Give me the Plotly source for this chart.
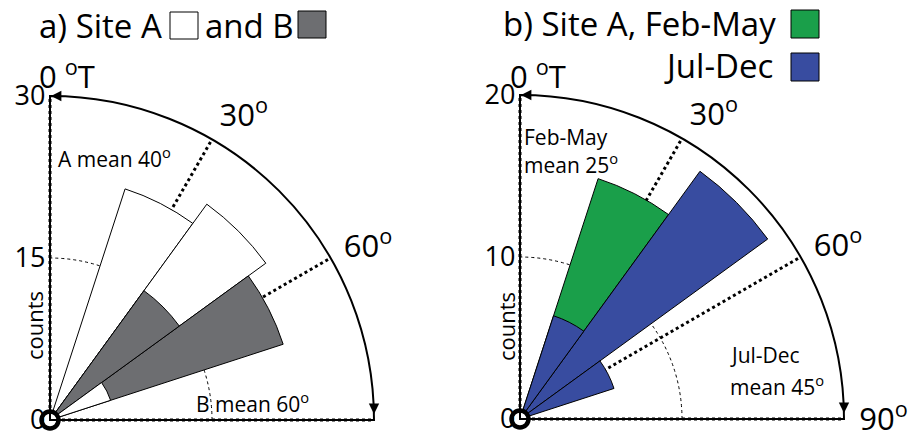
import plotly.graph_objects as go

# ---------------- data ----------------
bin_centers = [27, 45, 63]          # degrees true, 18-degree bins
bin_width = 18
site_a = [22.5, 24.7, 5.9]          # counts, panel a, site A
site_b = [0.0, 14.8, 22.7]          # counts, panel a, site B
feb_may = [15.6, 0.0, 0.0]          # counts, panel b, Feb-May
jul_dec = [6.7, 18.9, 6.1]          # counts, panel b, Jul-Dec
radial_ticks_a = [0, 15, 30]
radial_ticks_b = [0, 10, 20]
angle_ticks = [0, 30, 60, 90]
angle_text_a = ["", "30<sup>o</sup>", "60<sup>o</sup>", ""]
angle_text_b = ["", "30<sup>o</sup>", "60<sup>o</sup>", "90<sup>o</sup>"]

# ---------------- style ----------------
W, H = 922, 434
OFF = 8   # page body margin
FONT = "Open Sans"
C_A, C_B = "#ffffff", "#6d6e71"
C_FEB, C_JUL = "#1a9f4a", "#384ca0"


def px(x):
    return (x - OFF) / W


def py(y):
    return 1 - (y - OFF) / H


# panel geometry (origin pixel in the screenshot, radius)
OA, RA = (50, 420), 324
OB, RB = (520, 419), 324


def layered(v1, v2, c1, c2):
    back_r, back_c, front_r, front_c = [], [], [], []
    for a, b in zip(v1, v2):
        if a >= b:
            back_r.append(a); back_c.append(c1); front_r.append(b); front_c.append(c2)
        else:
            back_r.append(b); back_c.append(c2); front_r.append(a); front_c.append(c1)
    return (back_r, back_c), (front_r, front_c)


fig = go.Figure()


def add_panel(subplot, v1, v2, c1, c2):
    for r, c in layered(v1, v2, c1, c2):
        th = [t for t, v in zip(bin_centers, r) if v > 0]
        cc = [k for k, v in zip(c, r) if v > 0]
        rr = [v for v in r if v > 0]
        fig.add_trace(go.Barpolar(
            r=rr, theta=th, width=[bin_width] * len(rr),
            marker=dict(color=cc, line=dict(color="black", width=1)),
            subplot=subplot, showlegend=False, hoverinfo="skip"))
    fig.add_trace(go.Scatterpolar(
        r=[0], theta=[0], mode="markers", subplot=subplot, cliponaxis=False,
        marker=dict(symbol="circle", size=17, color="white",
                    line=dict(color="black", width=4.5)),
        showlegend=False, hoverinfo="skip"))


add_panel("polar", site_a, site_b, C_A, C_B)
add_panel("polar2", feb_may, jul_dec, C_FEB, C_JUL)


def polar_layout(origin, R, rmax, rticks, atext):
    ox, oy = origin
    return dict(
        domain=dict(x=[px(ox), px(ox + R)], y=[py(oy), py(oy - R)]),
        sector=[0, 90],
        bgcolor="rgba(0,0,0,0)",
        barmode="overlay",
        radialaxis=dict(
            range=[0, rmax], tickvals=rticks, angle=90, tickangle=90,
            side="counterclockwise", showline=False, ticks="",
            gridcolor="black", griddash="dot", gridwidth=1.2,
            tickfont=dict(size=27, color="black", family=FONT)),
        angularaxis=dict(
            rotation=90, direction="clockwise", tickvals=angle_ticks,
            ticktext=atext, showline=True, linecolor="black", linewidth=2,
            gridcolor="black", griddash="dot", gridwidth=2.6,
            ticks="outside", ticklen=8, tickcolor="rgba(0,0,0,0)",
            tickfont=dict(size=31, color="black", family=FONT)),
    )


annotations = []
shapes = []


def text(x, y, s, size, anchor="left", angle=0):
    annotations.append(dict(
        x=px(x), y=py(y), xref="paper", yref="paper", text=s, showarrow=False,
        xanchor=anchor, yanchor="middle", textangle=angle,
        font=dict(size=size, color="black", family=FONT)))


def box(x0, y0, x1, y1, color):
    shapes.append(dict(type="rect", xref="paper", yref="paper",
                       x0=px(x0), x1=px(x1), y0=py(y1), y1=py(y0),
                       fillcolor=color, line=dict(color="black", width=1)))


def arrow(x, y, dx, dy):
    annotations.append(dict(
        x=px(x), y=py(y), xref="paper", yref="paper", ax=dx, ay=dy,
        axref="pixel", ayref="pixel", text="", showarrow=True,
        arrowhead=2, arrowsize=1.3, arrowwidth=1.6, arrowcolor="black"))


# panel a labels
text(37, 25, "a) Site A", 33)
box(170, 12, 198, 39, C_A)
text(203, 25, "and B", 33)
box(298, 11, 326, 38, C_B)
text(37, 74, "0 <sup>o</sup>T", 31)
text(56, 157, "A mean 40<sup>o</sup>", 21)
text(194, 402, "B mean 60<sup>o</sup>", 21)
text(34, 326, "counts", 22, anchor="center", angle=-90)
arrow(OA[0] + 1, OA[1] - RA, 10, 0)
arrow(OA[0] + RA, OA[1] - 6, 0, -10)

# panel b labels
text(501, 24, "b) Site A, Feb-May", 33)
box(791, 10, 819, 38, C_FEB)
text(662, 66, "Jul-Dec", 33)
box(791, 53, 819, 81, C_JUL)
text(508, 74, "0 <sup>o</sup>T", 31)
text(522, 137, "Feb-May", 21)
text(522, 163, "mean 25<sup>o</sup>", 21)
text(728, 355, "Jul-Dec", 21)
text(728, 385, "mean 45<sup>o</sup>", 21)
text(506, 326, "counts", 22, anchor="center", angle=-90)
arrow(OB[0] + 1, OB[1] - RB, 10, 0)
arrow(OB[0] + RB, OB[1] - 6, 0, -10)

fig.update_layout(
    width=W, height=H,
    margin=dict(l=0, r=0, t=0, b=0),
    paper_bgcolor="white", plot_bgcolor="white",
    font=dict(family=FONT, color="black"),
    polar=polar_layout(OA, RA, 30, radial_ticks_a, angle_text_a),
    polar2=polar_layout(OB, RB, 20, radial_ticks_b, angle_text_b),
    annotations=annotations, shapes=shapes,
    showlegend=False,
)

fig.write_html("out.html")
